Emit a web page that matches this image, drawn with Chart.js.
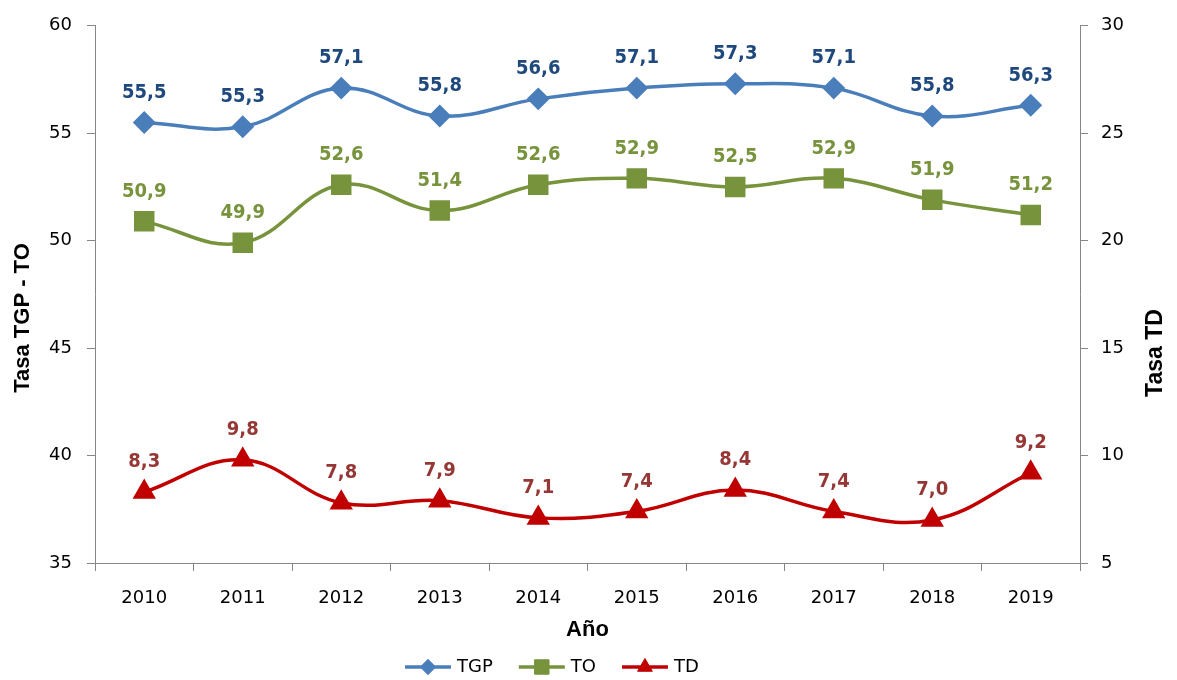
<!DOCTYPE html>
<html>
<head>
<meta charset="utf-8">
<script src="https://cdn.jsdelivr.net/npm/chart.js@4.4.1/dist/chart.umd.min.js"></script>
<style>
  body { margin: 0; background: #fff; }
  #wrap { width: 1177px; height: 680px; }
</style>
</head>
<body>
<div id="wrap"><canvas id="tasasChart" width="1177" height="680"></canvas></div>
<script>
// Data
const years = ['2010', '2011', '2012', '2013', '2014', '2015', '2016', '2017', '2018', '2019'];
const tgp = [55.5, 55.3, 57.1, 55.8, 56.6, 57.1, 57.3, 57.1, 55.8, 56.3];
const to = [50.9, 49.9, 52.6, 51.4, 52.6, 52.9, 52.5, 52.9, 51.9, 51.2];
const td = [8.3, 9.8, 7.8, 7.9, 7.1, 7.4, 8.4, 7.4, 7.0, 9.2];

const axisColor = '#868686';
const tickFont = { family: 'DejaVu Sans', size: 18 };
const titleFont = { family: 'Liberation Sans', size: 22, weight: 'bold' };

// Value labels above each point, decimal comma
const valueLabels = {
    id: 'valueLabels',
    afterDatasetsDraw(chart) {
        const ctx = chart.ctx;
        ctx.save();
        ctx.font = 'bold 20px "DejaVu Sans Condensed", "DejaVu Sans"';
        ctx.textAlign = 'center';
        ctx.textBaseline = 'middle';
        chart.data.datasets.forEach((ds, i) => {
            const meta = chart.getDatasetMeta(i);
            ctx.fillStyle = ds.labelColor;
            meta.data.forEach((pt, j) => {
                ctx.fillText(ds.data[j].toFixed(1).replace('.', ','), pt.x, pt.y - 30);
            });
        });
        ctx.restore();
    }
};

// Y axis titles (both read bottom to top) and legend with line + marker
const extras = {
    id: 'extras',
    afterDraw(chart) {
        const ctx = chart.ctx;
        ctx.save();
        ctx.fillStyle = '#000';
        ctx.textAlign = 'center';
        ctx.textBaseline = 'middle';
        ctx.font = 'bold 22px "Liberation Sans"';
        ctx.translate(23, 318);
        ctx.rotate(-Math.PI / 2);
        ctx.fillText('Tasa TGP - TO', 0, 0);
        ctx.restore();

        ctx.save();
        ctx.fillStyle = '#000';
        ctx.textAlign = 'center';
        ctx.textBaseline = 'middle';
        ctx.font = 'bold 23px "Liberation Sans"';
        ctx.translate(1156, 353);
        ctx.rotate(-Math.PI / 2);
        ctx.fillText('Tasa TD', 0, 0);
        ctx.restore();

        ctx.save();
        ctx.font = '18px "DejaVu Sans"';
        ctx.textBaseline = 'middle';
        const y = 667;
        const lineLen = 46, gapText = 6, gapItem = 26;
        let x = 405;
        chart.data.datasets.forEach(ds => {
            const w = lineLen + gapText + ctx.measureText(ds.label).width;
            ctx.strokeStyle = ds.borderColor;
            ctx.lineWidth = 3.5;
            ctx.beginPath();
            ctx.moveTo(x, y);
            ctx.lineTo(x + lineLen, y);
            ctx.stroke();
            ctx.fillStyle = ds.backgroundColor;
            ctx.strokeStyle = ds.backgroundColor;
            ctx.lineWidth = 1;
            Chart.helpers.drawPoint(ctx, { pointStyle: ds.pointStyle, radius: ds.pointRadius * 0.85, rotation: 0, borderWidth: 1 }, x + lineLen / 2, y);
            ctx.fillStyle = '#000';
            ctx.fillText(ds.label, x + lineLen + gapText, y);
            x += w + gapItem;
        });
        ctx.restore();
    }
};

const ctx = document.getElementById('tasasChart').getContext('2d');
const tasasChart = new Chart(ctx, {
    type: 'line',
    data: {
        labels: years,
        datasets: [{
            label: 'TGP',
            data: tgp,
            yAxisID: 'y',
            borderColor: '#4A7EBB',
            backgroundColor: '#4A7EBB',
            labelColor: '#1F497D',
            pointStyle: 'rectRot',
            pointRadius: 9,
            borderWidth: 3.5,
            tension: 0.4
        }, {
            label: 'TO',
            data: to,
            yAxisID: 'y',
            borderColor: '#77933C',
            backgroundColor: '#77933C',
            labelColor: '#77933C',
            pointStyle: 'rect',
            pointRadius: 12,
            borderWidth: 3.5,
            tension: 0.4
        }, {
            label: 'TD',
            data: td,
            yAxisID: 'y2',
            borderColor: '#C00000',
            backgroundColor: '#C00000',
            labelColor: '#953735',
            pointStyle: 'triangle',
            pointRadius: 10,
            borderWidth: 3.5,
            tension: 0.4
        }]
    },
    options: {
        responsive: false,
        animation: false,
        layout: { padding: { top: 25, right: 0, bottom: 35, left: 0 } },
        plugins: {
            legend: { display: false },
            tooltip: { enabled: false }
        },
        scales: {
            x: {
                offset: true,
                grid: { offset: true, drawOnChartArea: false, color: axisColor, tickLength: 8 },
                border: { color: axisColor },
                ticks: { color: '#000', font: tickFont, padding: 17, maxRotation: 0 },
                title: { display: true, text: 'Año', color: '#000', font: titleFont, padding: { top: 0, bottom: 2 } },
                afterFit(scale) { scale.height = 82; }
            },
            y: {
                position: 'left',
                min: 35,
                max: 60,
                ticks: { stepSize: 5, color: '#000', font: tickFont, padding: 15 },
                grid: { drawOnChartArea: false, color: axisColor, tickLength: 8 },
                border: { color: axisColor },
                afterFit(scale) { scale.width = 95; }
            },
            y2: {
                position: 'right',
                min: 5,
                max: 30,
                ticks: { stepSize: 5, color: '#000', font: tickFont, padding: 13 },
                grid: { drawOnChartArea: false, color: axisColor, tickLength: 8 },
                border: { color: axisColor },
                afterFit(scale) { scale.width = 97; }
            }
        }
    },
    plugins: [valueLabels, extras]
});
</script>
</body>
</html>
